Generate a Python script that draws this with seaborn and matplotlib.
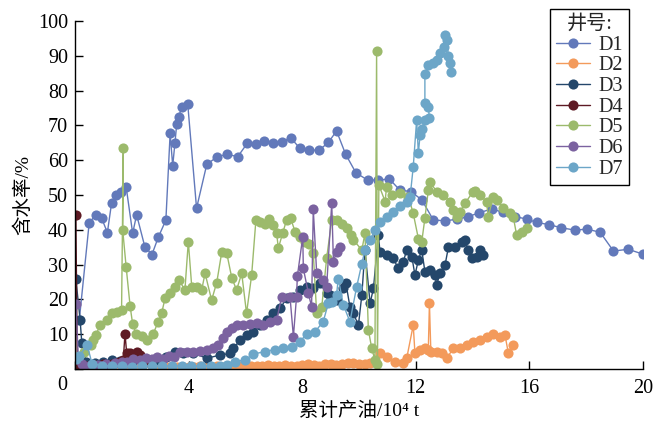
import numpy as np
import pandas as pd
import matplotlib
matplotlib.use("Agg")
import matplotlib.pyplot as plt
import seaborn as sns

# ---------------- data ----------------
wells = ["D1", "D2", "D3", "D4", "D5", "D6", "D7"]

d1_x = [0.15, 0.50, 0.73, 0.94, 1.14, 1.29, 1.44, 1.61, 1.80, 2.03, 2.17, 2.46, 2.71, 2.93, 3.20, 3.35,
        3.44, 3.52, 3.58, 3.65, 3.76, 3.97, 4.28, 4.64, 5.01, 5.36, 5.73, 6.06, 6.37, 6.65, 6.98, 7.29,
        7.59, 7.92, 8.25, 8.60, 8.92, 9.21, 9.53, 9.89, 10.30, 10.68, 11.07, 11.44, 11.83, 12.21, 12.62,
        13.03, 13.44, 13.85, 14.24, 14.67, 15.08, 15.49, 15.90, 16.26, 16.69, 17.11, 17.61, 18.02, 18.49,
        18.96, 19.48, 20.0]
d1_y = [14.0, 42.0, 44.3, 43.3, 39.2, 47.8, 50.0, 51.0, 52.4, 39.0, 44.3, 35.1, 32.9, 37.8, 42.8, 67.7,
        58.4, 65.0, 70.3, 72.5, 75.2, 76.1, 46.2, 58.8, 61.0, 61.7, 61.0, 64.8, 64.7, 65.6, 64.8, 65.3,
        66.5, 63.4, 62.9, 62.9, 65.1, 68.4, 61.7, 56.4, 54.3, 54.3, 54.6, 51.4, 51.0, 48.6, 42.8,
        42.6, 43.0, 43.8, 44.9, 46.0, 45.0, 43.8, 43.1, 42.1, 41.5, 40.6, 39.9, 40.2, 39.3,
        33.9, 34.4, 33.0]

d2_x = [0.3, 0.8, 1.3, 1.8, 2.3, 2.8, 3.3, 3.6, 3.8, 4.0, 4.2, 4.4, 4.6, 4.8, 5.0, 5.2, 5.4, 5.6, 5.8,
        6.0, 6.2, 6.4, 6.6, 6.8, 7.0, 7.2, 7.4, 7.6, 7.8, 8.0, 8.2, 8.4, 8.6, 8.8, 9.0, 9.2, 9.4, 9.6,
        9.8, 10.0, 10.2, 10.4, 10.55,
        10.74, 10.97, 11.27, 11.56, 11.68, 11.91, 11.97, 12.15, 12.32, 12.44, 12.48, 12.53, 12.73, 12.91,
        13.09, 13.32, 13.56, 13.79, 14.02, 14.26, 14.49, 14.73, 14.96, 15.14, 15.26, 15.43]
d2_y = [0.5, 0.3, 0.3, 0.4, 0.4, 0.5, 0.5, 0.6, 0.5, 0.7, 0.6, 0.8, 0.6, 0.7, 0.9, 0.7, 0.8, 0.6, 0.9,
        0.8, 1.0, 0.8, 0.9, 1.1, 0.9, 1.0, 1.2, 0.9, 1.0, 1.1, 1.3, 1.2, 1.0, 1.4, 1.5, 1.2, 1.3, 1.8,
        1.6, 1.4, 1.5, 1.7, 2.0,
        4.5, 3.5, 2.1, 1.6, 3.1, 12.6, 4.5, 5.5, 5.9, 5.5, 18.9, 5.0, 5.0, 4.5,
        3.1, 5.9, 5.9, 6.9, 7.8, 8.3, 9.3, 10.2, 9.3, 9.8, 4.5, 6.9]

d3_x = [0.03, 0.18, 0.24, 0.4, 0.7, 1.0, 1.3, 1.6, 2.0, 2.4, 2.8, 3.2, 3.52, 3.8, 4.17, 4.64, 5.11, 5.46,
        5.58, 5.81, 6.04, 6.28, 6.51, 6.75, 6.98, 7.22, 7.45, 7.69, 7.92, 8.16, 8.39, 8.63, 8.86, 8.98,
        9.21, 9.45, 9.54, 9.68, 9.80, 9.98, 10.10, 10.21, 10.39, 10.51, 10.68, 10.74, 10.97, 11.21, 11.38,
        11.56, 11.68, 11.86, 11.97, 12.09, 12.21, 12.32, 12.50, 12.68, 12.73, 12.85, 13.03, 13.15,
        13.38, 13.62, 13.73, 13.85, 13.97, 14.14, 14.26, 14.38]
d3_y = [25.9, 14.1, 7.4, 2.0, 1.8, 2.0, 2.6, 2.2, 2.0, 2.2, 2.5, 3.5, 5.0, 4.5, 4.5, 3.1, 4.0, 4.5,
        5.9, 8.3, 9.8, 10.7, 12.6, 14.1, 16.0, 17.4, 20.3, 20.8, 22.7, 23.7, 23.2, 24.6, 21.7, 21.3,
        19.8, 23.2, 24.6, 17.9, 16.0, 12.6, 21.3, 34.2, 18.9, 23.2, 38.5, 33.7, 32.8, 31.8, 28.9,
        30.8, 34.2, 32.3, 27.0, 31.3, 34.2, 28.0, 28.4, 27.0, 24.1, 27.5, 29.9, 35.1,
        35.1, 36.6, 37.1, 34.2, 31.8, 32.3, 34.2, 32.8]

d4_x = [0.03, 0.08, 0.2, 0.4, 0.7, 1.0, 1.3, 1.55, 1.70, 1.76, 1.82, 1.94, 2.05, 2.17, 2.29, 2.45, 2.6]
d4_y = [44.2, 1.5, 1.2, 1.0, 1.2, 1.3, 1.5, 2.0, 2.5, 10.2, 4.5, 4.5, 3.6, 5.0, 4.0, 3.0, 2.0]

d5_x = [0.0, 0.3, 0.55, 0.64, 0.74, 0.88, 1.12, 1.29, 1.47, 1.64, 1.70, 1.68, 1.80, 1.94, 2.03, 2.15,
        2.35, 2.55, 2.76, 2.93, 3.05, 3.17, 3.35, 3.52, 3.66, 3.87, 3.99, 4.11, 4.28, 4.46, 4.58, 4.81,
        4.99, 5.17, 5.34, 5.52, 5.69, 5.87, 6.04, 6.22, 6.37, 6.51, 6.69, 6.84, 6.98, 7.10, 7.16, 7.31,
        7.45, 7.59, 7.75, 7.92, 8.10, 8.25, 8.39, 8.51, 8.69, 8.86, 9.04, 9.21, 9.39, 9.57, 9.72, 9.80,
        10.10, 10.21, 10.33, 10.45, 10.56, 10.62, 10.65, 10.70, 10.92, 10.97, 11.15, 11.44, 11.74,
        11.91, 12.09, 12.21, 12.32, 12.44, 12.50, 12.73, 12.97, 13.20, 13.32, 13.44, 13.56, 13.73,
        14.02, 14.08, 14.26, 14.49, 14.55, 14.73, 14.85, 15.08, 15.32, 15.43, 15.55, 15.73, 15.90]
d5_y = [3.5, 5.0, 7.0, 8.3, 9.8, 12.6, 14.1, 16.0, 16.5, 17.0, 63.4, 39.9, 29.4, 18.1, 12.9, 10.2,
        9.5, 8.2, 10.2, 13.6, 16.0, 20.3, 21.7, 23.7, 25.6, 22.7, 36.6, 23.7, 23.7, 22.7, 27.5, 19.8,
        24.8, 33.7, 33.4, 26.2, 22.7, 27.5, 16.0, 27.0, 42.8, 42.3, 41.8, 43.0, 41.4, 39.0, 34.7, 39.0,
        42.8, 43.3, 39.5, 38.0, 36.6, 35.9, 33.2, 16.0, 17.9, 31.8, 42.8, 42.8, 41.8, 40.4, 38.5, 37.1,
        34.2, 39.0, 11.2, 5.9, 2.6, 91.5, 1.5, 52.9, 48.1, 52.4, 50.0, 50.5, 49.5,
        44.7, 37.5, 36.6, 43.3, 51.4, 53.8, 51.0, 50.0, 48.1, 45.7, 43.8, 45.2, 47.6,
        51.0, 51.2, 50.0, 48.1, 43.8, 49.5, 48.6, 46.2, 44.7, 43.8, 38.5, 39.4, 40.4]

d6_x = [0.03, 0.12, 0.25, 0.5, 0.8, 1.1, 1.4, 1.65, 1.82, 2.05, 2.29, 2.5, 2.7, 2.9, 3.1, 3.3, 3.5, 3.70,
        3.93, 4.17, 4.40, 4.64, 4.87, 5.05, 5.22, 5.34, 5.52, 5.69, 5.93, 6.16, 6.40, 6.63, 6.87, 7.10,
        7.28, 7.57, 7.69, 7.80, 7.83, 8.02, 8.04, 8.22, 8.33, 8.39, 8.51, 8.74, 8.86, 9.04, 9.10, 9.21,
        9.33]
d6_y = [18.7, 3.0, 1.5, 1.0, 1.2, 1.5, 1.8, 2.0, 2.1, 2.8, 2.6, 3.2, 2.9, 3.4, 3.0, 3.6, 3.5, 5.0,
        5.0, 5.0, 5.2, 5.5, 5.9, 6.9, 8.8, 10.7, 11.7, 12.6, 12.6, 12.8, 13.1, 12.6, 13.6, 14.1,
        20.8, 20.8, 9.3, 20.8, 26.7, 38.0, 28.9, 21.7, 17.9, 45.9, 27.5, 25.6, 23.7, 47.6, 30.8, 33.7,
        35.1]

d7_x = [0.05, 0.15, 0.43, 0.6, 0.95, 1.3, 1.65, 2.0, 2.35, 2.7, 3.05, 3.4, 3.75, 4.1, 4.45, 4.8, 5.1,
        5.34, 5.63, 5.99, 6.28, 6.69, 7.04, 7.33, 7.63, 7.92, 8.16, 8.45, 8.74, 8.92, 9.04, 9.21, 9.27,
        9.45, 9.68, 9.92, 10.10, 10.21, 10.39, 10.56, 10.74, 10.97, 11.21, 11.44, 11.68, 11.80, 11.91,
        12.03, 12.09, 12.15, 12.21, 12.32, 12.48, 12.44, 12.32, 12.32, 12.44, 12.62, 12.73, 12.85,
        12.99, 13.03, 13.09, 13.15, 13.20, 13.23]
d7_y = [3.0, 3.7, 6.9, 1.5, 1.0, 0.8, 0.9, 0.7, 0.8, 0.9, 0.8, 0.9, 1.0, 0.8, 0.9, 1.0, 0.9,
        1.1, 2.1, 2.6, 4.3, 5.0, 5.6, 5.9, 6.4, 7.8, 10.2, 10.7, 13.6, 18.9, 19.3, 21.3, 26.0,
        18.4, 13.6, 23.7, 30.3, 34.2, 37.1, 39.9, 42.3, 43.8, 45.2, 46.7, 48.1, 49.5, 58.1,
        71.6, 62.0, 67.2, 69.1, 71.6, 72.0, 75.4, 76.3, 84.9, 87.4, 87.8, 88.8, 90.7,
        92.6, 96.0, 94.5, 89.8, 87.8, 85.4]

colors = ["#6279BA", "#F39A5B", "#24476B", "#5E1A24", "#9CBA6C", "#7B62A0", "#6CA6C8"]

x_ticks = [0, 4, 8, 12, 16, 20]
y_ticks = [0, 10, 20, 30, 40, 50, 60, 70, 80, 90, 100]

# ---------------- build frame ----------------
series = [(d1_x, d1_y), (d2_x, d2_y), (d3_x, d3_y), (d4_x, d4_y),
          (d5_x, d5_y), (d6_x, d6_y), (d7_x, d7_y)]
frames = []
for w, (xs, ys) in zip(wells, series):
    frames.append(pd.DataFrame({"well": w, "x": xs, "y": ys}))
df = pd.concat(frames, ignore_index=True)

sns.set_theme(style="white")
plt.rcParams["font.family"] = ["Liberation Serif", "Noto Sans CJK SC"]

fig = plt.figure(figsize=(6.69, 4.26), dpi=100)
ax = fig.add_axes([75 / 669, 1 - 369 / 426, (643 - 75) / 669, (369 - 21) / 426])

palette = dict(zip(wells, colors))
sns.lineplot(data=df, x="x", y="y", hue="well", hue_order=wells, palette=palette,
             sort=False, estimator=None, units="well", marker="o", markersize=7.3,
             markeredgewidth=0, linewidth=1.0, ax=ax, legend=True)

ax.set_xlim(0, 20)
ax.set_ylim(0, 100)
ax.set_xticks(x_ticks)
ax.set_xticklabels([""] + [str(t) for t in x_ticks[1:]])
ax.set_yticks(y_ticks)
ax.set_yticklabels([""] + [str(t) for t in y_ticks[1:]])
ax.annotate("0", xy=(0, 0), xycoords="data", xytext=(-13, -16), textcoords="offset pixels",
            ha="center", va="center", fontsize=14.5, color="black")

for s in ["top", "right"]:
    ax.spines[s].set_visible(False)
for s in ["left", "bottom"]:
    ax.spines[s].set_color("black")
    ax.spines[s].set_linewidth(1.0)
ax.tick_params(axis="both", direction="in", length=6, width=1, color="black",
               labelsize=14.5, labelcolor="black", left=True, bottom=True)
ax.tick_params(axis="x", pad=7)
ax.tick_params(axis="y", pad=5)

ax.set_xlabel("累计产油/10\u2074 t", fontsize=14, color="black", labelpad=3)
ax.set_ylabel("含水率/%", fontsize=14, color="black", labelpad=4)

handles, labels = ax.get_legend_handles_labels()
leg = ax.legend(handles, labels, title="井号:", loc="upper right",
                bbox_to_anchor=(0.975, 1.035), borderaxespad=0, frameon=True,
                fontsize=14.5, title_fontsize=14.5, handlelength=1.7, handletextpad=0.4,
                labelspacing=0.08, borderpad=0.3, fancybox=False)
leg.get_frame().set_edgecolor("black")
leg.get_frame().set_linewidth(1.0)
leg.get_frame().set_alpha(1)

fig.savefig("out.png", dpi=100)
